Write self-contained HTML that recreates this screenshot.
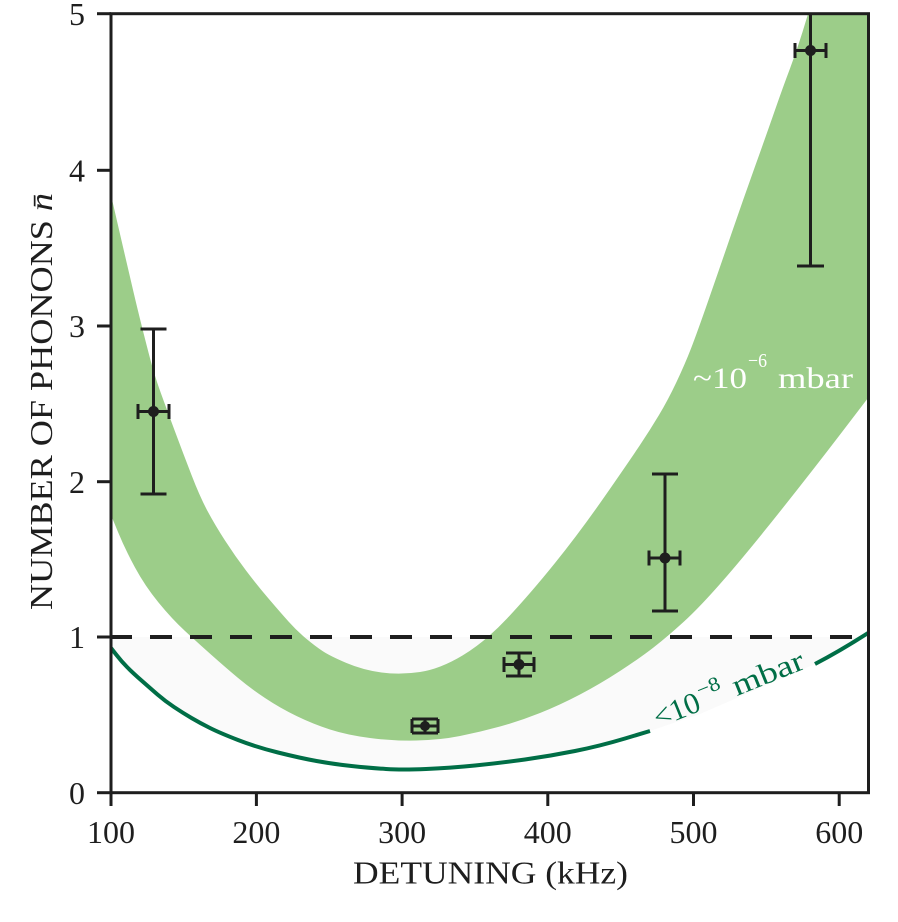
<!DOCTYPE html>
<html>
<head>
<meta charset="utf-8">
<style>
  html,body{margin:0;padding:0;background:#fff;}
  svg{display:block;}
  text{font-family:"Liberation Serif","DejaVu Serif",serif;}
</style>
</head>
<body>
<svg width="898" height="922" viewBox="0 0 898 922" xmlns="http://www.w3.org/2000/svg">
  <rect x="0" y="0" width="898" height="922" fill="#ffffff"/>

  <!-- faint grey region below n=1 above dark line -->
  <path d="M111,637 L868,637 L868,633 L840,651 L815,664 L700,714 L650,731 L600,746 L550,756 L500,763 L450,768 L402,770 L370,768 L333,764 L300,758 L256,747 L220,733 L200,723 L183,713 L165,701 L150,688 L133,673 L122,662 L111,648 Z" fill="#fafafa"/>

  <!-- green band -->
  <path d="M111,195 L114,208 Q117,221 120,234 Q123,247 126.5,262 Q130,277 133.5,292 Q137,307 142,327 Q147,347 151,362 Q155,377 161,393.5 Q167,410 175,431.5 Q183,453 191.5,475 Q200,497 207.5,511 Q215,525 225,540.5 Q235,556 246,570.5 Q257,585 268.5,598.5 Q280,612 288.5,621.5 Q297,631 306,638.5 Q315,646 322.5,651 Q330,656 346.5,663 Q363,670 381.5,672.5 Q400,675 420,672 Q440,669 462.5,655.5 Q485,642 507.5,618 Q530,594 555,563 Q580,532 605,496 Q630,460 640,445 Q650,430 659,415 Q668,400 676.5,382 Q685,364 691,348.5 Q697,333 708.5,300 Q720,267 731.5,233.5 Q743,200 755,166.5 Q767,133 775,110 Q783,87 790,68.5 Q797,50 802.5,32 L808,14 L868,14 L868,398 L840.5,434 Q813,470 780,511.5 Q747,553 723.5,580 Q700,607 683.5,622 Q667,637 653.5,647.5 Q640,658 620,671 Q600,684 580,694.5 Q560,705 540,713 Q520,721 500,726.5 Q480,732 460,736 Q440,740 416.5,740.5 Q393,741 370,738 Q347,735 330,729.5 Q313,724 296.5,716 Q280,708 265,698 Q250,688 237.5,677.5 Q225,667 211.5,655 Q198,643 185,631 Q172,619 158.5,602.5 Q145,586 135,567.5 Q125,549 118,532 L111,515 Z" fill="#9ccd89"/>

  <!-- dark green line -->
  <path d="M111,648 L116.5,655 Q122,662 127.5,667.5 Q133,673 141.5,680.5 Q150,688 157.5,694.5 Q165,701 174,707 Q183,713 191.5,718 Q200,723 210,728 Q220,733 238,740 Q256,747 278,752.5 Q300,758 316.5,761 Q333,764 351.5,766 Q370,768 386,769 Q402,770 426,769 Q450,768 475,765.5 Q500,763 525,759.5 Q550,756 575,751 Q600,746 625,738.5 L650,731" fill="none" stroke="#006e46" stroke-width="4" stroke-linejoin="round"/>
  <path d="M815,664 Q840,651 868,633" fill="none" stroke="#006e46" stroke-width="4" stroke-linejoin="round"/>

  <!-- dashed n=1 line -->
  <line x1="110" y1="637" x2="868" y2="637" stroke="#1e1e1e" stroke-width="4" stroke-dasharray="22 18"/>

  <!-- error bars -->
  <g stroke="#1e1e1e" stroke-width="3" fill="none">
    <!-- point 1 -->
    <line x1="153.5" y1="329" x2="153.5" y2="494"/>
    <line x1="140.5" y1="329" x2="166.5" y2="329"/>
    <line x1="140.5" y1="494" x2="166.5" y2="494"/>
    <line x1="138" y1="411.5" x2="169" y2="411.5"/>
    <line x1="138" y1="404" x2="138" y2="419"/>
    <line x1="169" y1="404" x2="169" y2="419"/>
    <!-- point 2 -->
    <line x1="425" y1="719" x2="425" y2="733"/>
    <line x1="412" y1="719" x2="438" y2="719"/>
    <line x1="412" y1="733" x2="438" y2="733"/>
    <line x1="412" y1="726" x2="438" y2="726"/>
    <line x1="412" y1="719" x2="412" y2="733"/>
    <line x1="438" y1="719" x2="438" y2="733"/>
    <!-- point 3 -->
    <line x1="519" y1="653" x2="519" y2="676"/>
    <line x1="506" y1="653" x2="532" y2="653"/>
    <line x1="506" y1="676" x2="532" y2="676"/>
    <line x1="504" y1="664.5" x2="534" y2="664.5"/>
    <line x1="504" y1="657" x2="504" y2="672"/>
    <line x1="534" y1="657" x2="534" y2="672"/>
    <!-- point 4 -->
    <line x1="665" y1="474" x2="665" y2="611"/>
    <line x1="652" y1="474" x2="678" y2="474"/>
    <line x1="652" y1="611" x2="678" y2="611"/>
    <line x1="649" y1="558" x2="680" y2="558"/>
    <line x1="649" y1="550.5" x2="649" y2="565.5"/>
    <line x1="680" y1="550.5" x2="680" y2="565.5"/>
    <!-- point 5 -->
    <line x1="810.5" y1="14" x2="810.5" y2="266"/>
    <line x1="797" y1="266" x2="824" y2="266"/>
    <line x1="795" y1="50.5" x2="826" y2="50.5"/>
    <line x1="795" y1="43" x2="795" y2="58"/>
    <line x1="826" y1="43" x2="826" y2="58"/>
  </g>
  <g fill="#1e1e1e">
    <circle cx="153.5" cy="411.5" r="5.5"/>
    <circle cx="425" cy="726" r="5"/>
    <circle cx="519" cy="664.5" r="5.5"/>
    <circle cx="665" cy="558" r="5.5"/>
    <circle cx="810.5" cy="50.5" r="5.5"/>
  </g>

  <!-- in-plot labels -->
  <g fill="#ffffff">
    <text x="693" y="388" font-size="30" textLength="54" lengthAdjust="spacingAndGlyphs">~10</text>
    <text x="748" y="367" font-size="20" textLength="19" lengthAdjust="spacingAndGlyphs">−6</text>
    <text x="778" y="388" font-size="30" textLength="75" lengthAdjust="spacingAndGlyphs">mbar</text>
  </g>
  <g fill="#006e46" transform="translate(658,728) rotate(-22)">
    <text x="0" y="0" font-size="30" textLength="48" lengthAdjust="spacingAndGlyphs">&lt;10</text>
    <text x="50" y="-13" font-size="20" textLength="24" lengthAdjust="spacingAndGlyphs">−8</text>
    <text x="85" y="0" font-size="30" textLength="75" lengthAdjust="spacingAndGlyphs">mbar</text>
  </g>

  <!-- spines -->
  <rect x="111" y="13.7" width="757.5" height="779" fill="none" stroke="#1e1e1e" stroke-width="3"/>

  <!-- ticks -->
  <g stroke="#1e1e1e" stroke-width="3">
    <line x1="97" y1="792.7" x2="111" y2="792.7"/>
    <line x1="97" y1="637" x2="111" y2="637"/>
    <line x1="97" y1="481.7" x2="111" y2="481.7"/>
    <line x1="97" y1="326" x2="111" y2="326"/>
    <line x1="97" y1="170.3" x2="111" y2="170.3"/>
    <line x1="97" y1="13.7" x2="111" y2="13.7"/>
    <line x1="111" y1="792.7" x2="111" y2="806"/>
    <line x1="256.4" y1="792.7" x2="256.4" y2="806"/>
    <line x1="402.1" y1="792.7" x2="402.1" y2="806"/>
    <line x1="547.8" y1="792.7" x2="547.8" y2="806"/>
    <line x1="693.5" y1="792.7" x2="693.5" y2="806"/>
    <line x1="839.2" y1="792.7" x2="839.2" y2="806"/>
  </g>

  <!-- tick labels -->
  <g fill="#1e1e1e" font-size="32">
    <text x="85" y="804" text-anchor="end">0</text>
    <text x="85" y="648" text-anchor="end">1</text>
    <text x="85" y="493" text-anchor="end">2</text>
    <text x="85" y="337" text-anchor="end">3</text>
    <text x="85" y="181.5" text-anchor="end">4</text>
    <text x="85" y="25" text-anchor="end">5</text>

    <text x="111" y="843" text-anchor="middle">100</text>
    <text x="256.4" y="843" text-anchor="middle">200</text>
    <text x="402.1" y="843" text-anchor="middle">300</text>
    <text x="547.8" y="843" text-anchor="middle">400</text>
    <text x="693.5" y="843" text-anchor="middle">500</text>
    <text x="839.2" y="843" text-anchor="middle">600</text>
  </g>

  <!-- axis labels -->
  <text x="353" y="883.5" font-size="32" fill="#1e1e1e" textLength="275" lengthAdjust="spacingAndGlyphs">DETUNING (kHz)</text>
  <text transform="translate(52,610) rotate(-90)" x="0" y="0" font-size="32" fill="#1e1e1e" textLength="417" lengthAdjust="spacingAndGlyphs">NUMBER OF PHONONS <tspan font-style="italic">n̄</tspan></text>
</svg>
</body>
</html>
